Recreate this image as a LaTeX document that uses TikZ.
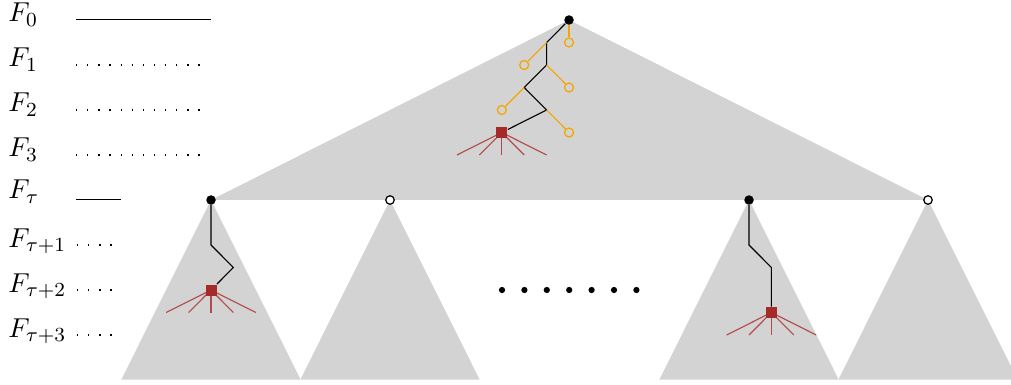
\documentclass[tikz,border=0pt]{standalone}
\usetikzlibrary{backgrounds}
\definecolor{treegray}{RGB}{211,211,211}
\definecolor{leaforange}{RGB}{245,165,0}
\definecolor{hitred}{RGB}{165,42,42}
\begin{document}
\begin{tikzpicture}[x=0.4pt,y=-0.4pt,
  tri/.style={fill=treegray},
  lab/.style={anchor=base west,inner sep=0pt,font=\fontsize{11.3pt}{13pt}\selectfont},
  bdot/.style={circle,fill=black,inner sep=0pt,minimum size=3.8pt},
  wdot/.style={circle,draw=black,fill=white,line width=0.5pt,inner sep=0pt,minimum size=3.4pt},
  ydot/.style={circle,draw=leaforange,line width=0.5pt,inner sep=0pt,minimum size=3.6pt},
  hit/.style={rectangle,fill=hitred,inner sep=0pt,minimum size=4.4pt},
  sdot/.style={circle,fill=black,inner sep=0pt,minimum size=2.5pt},
  pathline/.style={black,line width=0.45pt},
  leafline/.style={leaforange,line width=0.45pt},
  fanline/.style={hitred!85!white,line width=0.45pt},
  guide/.style={black,line width=0.4pt},
  guidedot/.style={black,line width=0.5pt,dash pattern=on 0.5pt off 3.95pt}]
\useasboundingbox (0,0) rectangle (1011,385);

% level labels
\node[lab] (l0) at (8,22) {$F_0$};
\node[lab] (l1) at (8,67) {$F_1$};
\node[lab] (l2) at (8,112) {$F_2$};
\node[lab] (l3) at (8,157) {$F_3$};
\node[lab] (lt) at (8,199) {$F_\tau$};
\node[lab] (lt1) at (8,247) {$F_{\tau+1}$};
\node[lab] (lt2) at (8,292) {$F_{\tau+2}$};
\node[lab] (lt3) at (8,337) {$F_{\tau+3}$};

% level guides
\coordinate (g0a) at (76,20);  \coordinate (g0b) at (211,20);
\coordinate (g1a) at (76,65);  \coordinate (g1b) at (205,65);
\coordinate (g2a) at (76,110); \coordinate (g2b) at (205,110);
\coordinate (g3a) at (76,155); \coordinate (g3b) at (205,155);
\coordinate (gta) at (76,200); \coordinate (gtb) at (121,200);
\coordinate (gt1a) at (77,245); \coordinate (gt1b) at (115,245);
\coordinate (gt2a) at (77,290); \coordinate (gt2b) at (115,290);
\coordinate (gt3a) at (77,335); \coordinate (gt3b) at (115,335);
\draw[guide] (g0a) -- (g0b);
\draw[guidedot] (g1a) -- (g1b);
\draw[guidedot] (g2a) -- (g2b);
\draw[guidedot] (g3a) -- (g3b);
\draw[guide] (gta) -- (gtb);
\draw[guidedot] (gt1a) -- (gt1b);
\draw[guidedot] (gt2a) -- (gt2b);
\draw[guidedot] (gt3a) -- (gt3b);

% upper tree
\node[bdot] (root) at (569,20) {};
\coordinate (t1) at (546.6,42.5);
\coordinate (t2) at (546.6,65);
\coordinate (t3) at (524.2,87.5);
\coordinate (t4) at (546.6,110);
\node[ydot] (y1) at (569,42.5) {};
\node[ydot] (y2) at (524.2,65) {};
\node[ydot] (y3) at (569,87.5) {};
\node[ydot] (y4) at (501.8,110) {};
\node[ydot] (y5) at (569,132.5) {};
\node[hit] (s0) at (501.8,132.5) {};
\foreach \i/\x in {1/457,2/479.4,3/501.8,4/524.2,5/546.6}
  \coordinate (f0\i) at (\x,155);

% subtree roots on level tau
\node[bdot] (ra) at (211,200) {};
\node[wdot] (rb) at (390,200) {};
\node[bdot] (rc) at (749,200) {};
\node[wdot] (rd) at (928,200) {};

% left subtree path
\coordinate (a1) at (211,245);
\coordinate (a2) at (233.4,267.5);
\node[hit] (sa) at (211,290) {};
\foreach \i/\x in {1/166.2,2/188.6,3/211,4/233.4,5/255.8}
  \coordinate (fa\i) at (\x,312.5);

% right subtree path
\coordinate (c1) at (749,245);
\coordinate (c2) at (771.4,267.5);
\node[hit] (sc) at (771.4,312.5) {};
\foreach \i/\x in {1/726.6,2/749,3/771.4,4/793.8,5/816.2}
  \coordinate (fc\i) at (\x,335);

% omitted subtrees
\foreach \i/\x in {1/502,2/524.4,3/546.8,4/569.2,5/591.6,6/614,7/636.4}
  \node[sdot] (d\i) at (\x,290) {};

\begin{scope}[on background layer]
  % shaded trees
  \fill[tri] (root.center) -- (ra.center) -- (rd.center) -- cycle;
  \fill[tri] (ra.center) -- ++(-89.6,179.5) -- ++(179.2,0) -- cycle;
  \fill[tri] (rb.center) -- ++(-89.6,179.5) -- ++(179.2,0) -- cycle;
  \fill[tri] (rc.center) -- ++(-89.6,179.5) -- ++(179.2,0) -- cycle;
  \fill[tri] (rd.center) -- ++(-89.6,179.5) -- ++(179.2,0) -- cycle;

  % upper tree edges
  \draw[pathline] (root) -- (t1) -- (t2) -- (t3) -- (t4) -- (s0);
  \draw[leafline] (root) -- (y1);
  \draw[leafline] (t1) -- (y2);
  \draw[leafline] (t2) -- (y3);
  \draw[leafline] (t3) -- (y4);
  \draw[leafline] (t4) -- (y5);
  \foreach \i in {1,...,5} \draw[fanline] (s0.center) -- (f0\i);

  % left subtree edges
  \draw[pathline] (ra) -- (a1) -- (a2) -- (sa);
  \foreach \i in {1,...,5} \draw[fanline] (sa.center) -- (fa\i);

  % right subtree edges
  \draw[pathline] (rc) -- (c1) -- (c2) -- (sc);
  \foreach \i in {1,...,5} \draw[fanline] (sc.center) -- (fc\i);
\end{scope}
\end{tikzpicture}
\end{document}
